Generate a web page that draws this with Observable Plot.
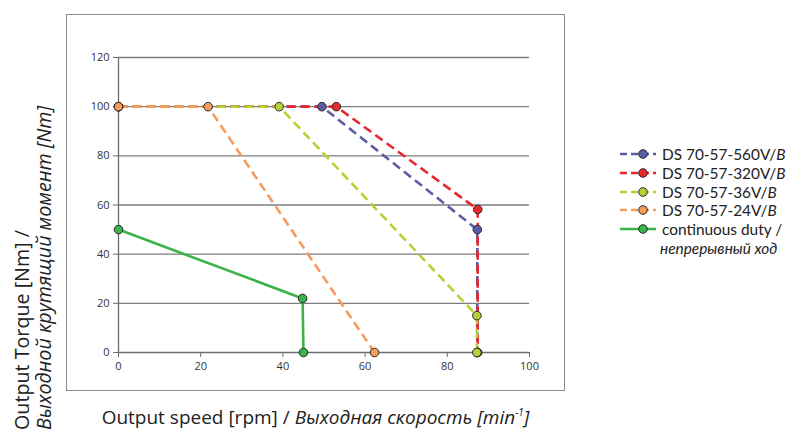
<!DOCTYPE html>
<html><head><meta charset="utf-8">
<script src="https://cdn.jsdelivr.net/npm/d3@7"></script>
<script src="https://cdn.jsdelivr.net/npm/@observablehq/plot@0.6"></script>
<style>
html,body{margin:0;padding:0;background:#fff;}
#wrap{position:relative;width:800px;height:431px;overflow:hidden;font-family:"Open Sans",sans-serif;color:#222;}
#frame{position:absolute;left:66px;top:14px;width:499px;height:377px;border:1.5px solid #8c8c8c;box-sizing:border-box;pointer-events:none;}
#chart{position:absolute;left:0;top:0;}
#xlabel{position:absolute;left:56px;width:519px;top:406px;text-align:center;font-size:19px;white-space:nowrap;line-height:22px;}
#xlabel sup{font-size:10px;vertical-align:8px;line-height:0;}
#ylabel{position:absolute;left:11px;top:430px;transform-origin:0 0;transform:rotate(-90deg);font-size:19.7px;line-height:22px;white-space:nowrap;}
#ylabel span, #ylabel i{display:inline-block;line-height:22px;height:22px;}
#legend{position:absolute;left:620px;top:145px;font-size:15.4px;font-family:Lato,"Open Sans",sans-serif;}
.row{display:flex;align-items:center;height:18.7px;white-space:nowrap;}
.row span{display:inline-block;line-height:16px;height:16px;}
.row svg{margin-right:4px;flex:none;}
.sub{padding-left:40px;}
i{font-style:italic;}
</style></head>
<body>
<div id="wrap">
  <div id="chart"></div>
  <div id="frame"></div>
  <div id="xlabel">Output speed [rpm] / <i>Выходная скорость [min<sup>-1</sup>]</i></div>
  <div id="ylabel"><span>Output Torque [Nm] /</span><br><i>Выходной крутящий момент [Nm]</i></div>
  <div id="legend"></div>
</div>
<script>
// ---- data ----
const seriesNames = ["DS 70-57-560V/", "DS 70-57-320V/", "DS 70-57-36V/", "DS 70-57-24V/", "continuous duty /"];
const seriesNamesRu = ["В", "В", "В", "В", "непрерывный ход"];
const seriesColors = ["#5a5ca6", "#e8262b", "#b4d136", "#f59b5c", "#3cb34a"];
const seriesDashed = [true, true, true, true, false];

const speed560 = [0, 49.5, 87.3, 87.3];
const torque560 = [100, 100, 50, 0];
const speed320 = [0, 53.0, 87.4, 87.4];
const torque320 = [100, 100, 58.2, 0];
const speed36 = [0, 39.1, 87.2, 87.2];
const torque36 = [100, 100, 15, 0];
const speed24 = [0, 21.8, 62.3];
const torque24 = [100, 100, 0];
const speedCont = [0, 44.8, 45.0];
const torqueCont = [50, 22, 0];

const xTicks = [0, 20, 40, 60, 80, 100];
const yTicks = [0, 20, 40, 60, 80, 100, 120];

const speeds = [speed560, speed320, speed36, speed24, speedCont];
const torques = [torque560, torque320, torque36, torque24, torqueCont];

const series = speeds.map((sp, i) => sp.map((s, j) => ({speed: s, torque: torques[i][j], i})));

const marks = [
  Plot.gridY(yTicks.filter(d => d > 0), {stroke: "#7d7d7d", strokeOpacity: 1, strokeWidth: 1.3}),
  Plot.ruleX([0], {stroke: "#6e6e6e", strokeWidth: 1.3}),
  Plot.ruleY([0], {stroke: "#6e6e6e", strokeWidth: 1.3}),
  Plot.axisY({ticks: yTicks, tickSize: 5, tickPadding: 4, label: null, fontSize: 11, stroke: "#6e6e6e", color: "#333"}),
  Plot.axisX({ticks: xTicks, tickSize: 5, tickPadding: 5, label: null, fontSize: 11, stroke: "#6e6e6e", color: "#333"})
];
series.forEach((data, i) => {
  marks.push(Plot.line(data, {x: "speed", y: "torque", stroke: seriesColors[i], strokeWidth: 2.6,
    strokeDasharray: seriesDashed[i] ? "9,5" : null, strokeLinecap: "butt", strokeLinejoin: "round"}));
});
series.forEach((data, i) => {
  marks.push(Plot.dot(data, {x: "speed", y: "torque", r: 4.3, fill: seriesColors[i], stroke: "#2a2a2a", strokeWidth: 1}));
});

const chart = Plot.plot({
  width: 800,
  height: 431,
  marginLeft: 118,
  marginRight: 271,
  marginTop: 57,
  marginBottom: 79,
  style: {background: "transparent", fontFamily: "'Open Sans', sans-serif", overflow: "visible"},
  x: {domain: [0, 100]},
  y: {domain: [0, 120]},
  marks
});
document.getElementById("chart").appendChild(chart);

// ---- legend ----
const legend = d3.select("#legend");
seriesNames.forEach((name, i) => {
  const row = legend.append("div").attr("class", "row");
  const svg = row.append("svg").attr("width", 38).attr("height", 12);
  svg.append("line").attr("x1", 0).attr("x2", 36).attr("y1", 6).attr("y2", 6)
    .attr("stroke", seriesColors[i]).attr("stroke-width", 2.6)
    .attr("stroke-dasharray", seriesDashed[i] ? "7,4" : null);
  svg.append("circle").attr("cx", 23).attr("cy", 6).attr("r", 4.3)
    .attr("fill", seriesColors[i]).attr("stroke", "#2a2a2a").attr("stroke-width", 1);
  if (seriesDashed[i]) {
    row.append("span").html(name + "<i>" + seriesNamesRu[i] + "</i>");
  } else {
    row.append("span").text(name);
    legend.append("div").attr("class", "row sub").append("span").html("<i>" + seriesNamesRu[i] + "</i>");
  }
});
</script>
</body></html>
